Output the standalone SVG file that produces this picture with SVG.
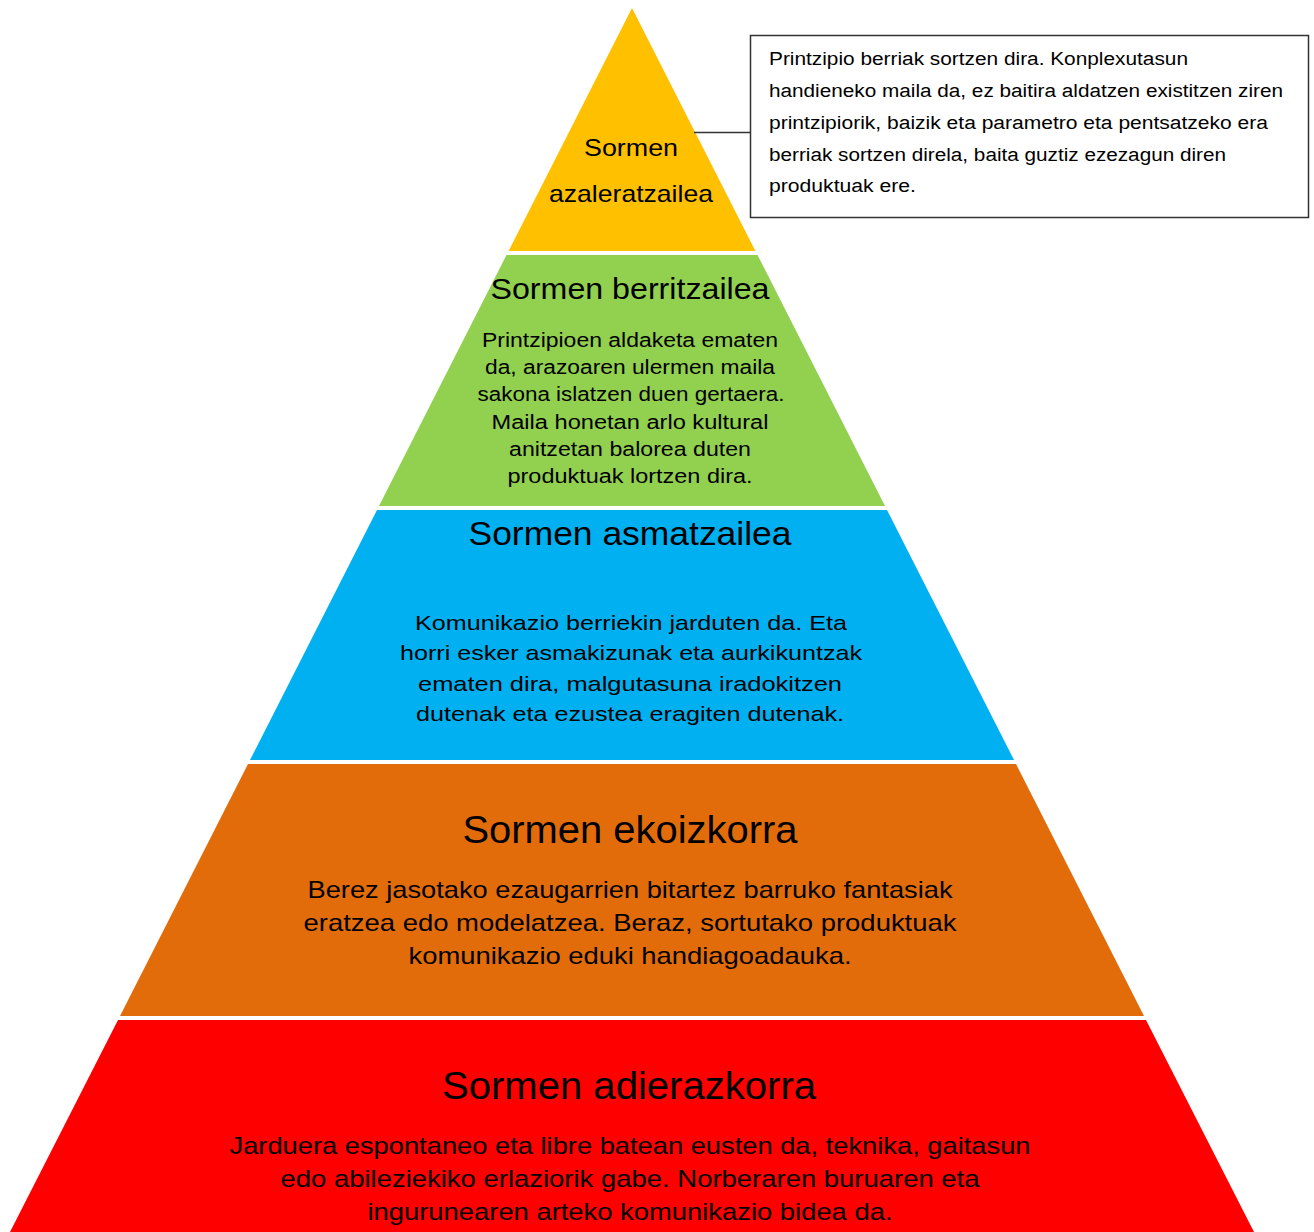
<svg xmlns="http://www.w3.org/2000/svg" width="1314" height="1232" viewBox="0 0 1314 1232">
  <style>
    text { font-family: "Liberation Sans", Arial, sans-serif; fill: #000; }
    .c { text-anchor: middle; }
    .t1 { font-size: 24px; }
    .tg { font-size: 30px; }
    .tb { font-size: 33px; }
    .to { font-size: 38px; }
    .bg { font-size: 20px; }
    .bb { font-size: 21px; }
    .bo { font-size: 24px; }
    .cl { font-size: 18px; }
    .line { stroke: #333; stroke-width: 1.5; fill: none; }
  </style>
  <rect width="1314" height="1232" fill="#fff"/>
  <g id="layer-azaleratzailea">
    <polygon points="632,8 755.4,251 508.6,251" fill="#FFC000"/>
    <text class="c t1" x="631" y="156" textLength="94" lengthAdjust="spacingAndGlyphs">Sormen</text>
    <text class="c t1" x="631" y="202" textLength="164" lengthAdjust="spacingAndGlyphs">azaleratzailea</text>
  </g>
  <g id="layer-berritzailea">
    <polygon points="506.5,255 757.5,255 885,506 379,506" fill="#92D050"/>
    <text class="c tg" x="630" y="299" textLength="279" lengthAdjust="spacingAndGlyphs">Sormen berritzailea</text>
    <text class="c bg" x="630" y="347" textLength="296" lengthAdjust="spacingAndGlyphs">Printzipioen aldaketa ematen</text>
    <text class="c bg" x="630" y="374" textLength="290" lengthAdjust="spacingAndGlyphs">da, arazoaren ulermen maila</text>
    <text class="c bg" x="631" y="401" textLength="307" lengthAdjust="spacingAndGlyphs">sakona islatzen duen gertaera.</text>
    <text class="c bg" x="630" y="429" textLength="277" lengthAdjust="spacingAndGlyphs">Maila honetan arlo kultural</text>
    <text class="c bg" x="630" y="456" textLength="242" lengthAdjust="spacingAndGlyphs">anitzetan balorea duten</text>
    <text class="c bg" x="630" y="483" textLength="245" lengthAdjust="spacingAndGlyphs">produktuak lortzen dira.</text>
  </g>
  <g id="layer-asmatzailea">
    <polygon points="377,510 887,510 1014,760 250,760" fill="#00B0F0"/>
    <text class="c tb" x="630" y="545" textLength="323" lengthAdjust="spacingAndGlyphs">Sormen asmatzailea</text>
    <text class="c bb" x="631" y="630" textLength="432" lengthAdjust="spacingAndGlyphs">Komunikazio berriekin jarduten da. Eta</text>
    <text class="c bb" x="631" y="660" textLength="462" lengthAdjust="spacingAndGlyphs">horri esker asmakizunak eta aurkikuntzak</text>
    <text class="c bb" x="630" y="691" textLength="424" lengthAdjust="spacingAndGlyphs">ematen dira, malgutasuna iradokitzen</text>
    <text class="c bb" x="630" y="721" textLength="428" lengthAdjust="spacingAndGlyphs">dutenak eta ezustea eragiten dutenak.</text>
  </g>
  <g id="layer-ekoizkorra">
    <polygon points="248,764 1016,764 1144,1016 120,1016" fill="#E36C0A"/>
    <text class="c to" x="630" y="843" textLength="335" lengthAdjust="spacingAndGlyphs">Sormen ekoizkorra</text>
    <text class="c bo" x="630" y="898" textLength="645" lengthAdjust="spacingAndGlyphs">Berez jasotako ezaugarrien bitartez barruko fantasiak</text>
    <text class="c bo" x="630" y="931" textLength="653" lengthAdjust="spacingAndGlyphs">eratzea edo modelatzea. Beraz, sortutako produktuak</text>
    <text class="c bo" x="630" y="964" textLength="443" lengthAdjust="spacingAndGlyphs">komunikazio eduki handiagoadauka.</text>
  </g>
  <g id="layer-adierazkorra">
    <polygon points="118,1020 1146,1020 1254,1232 10,1232" fill="#FF0000"/>
    <text class="c to" x="629" y="1099" textLength="374" lengthAdjust="spacingAndGlyphs">Sormen adierazkorra</text>
    <text class="c bo" x="630" y="1154" textLength="801" lengthAdjust="spacingAndGlyphs">Jarduera espontaneo eta libre batean eusten da, teknika, gaitasun</text>
    <text class="c bo" x="630" y="1187" textLength="699" lengthAdjust="spacingAndGlyphs">edo abileziekiko erlaziorik gabe. Norberaren buruaren eta</text>
    <text class="c bo" x="630" y="1220" textLength="525" lengthAdjust="spacingAndGlyphs">ingurunearen arteko komunikazio bidea da.</text>
  </g>
  <g id="connectors">
    <line class="line" x1="694" y1="132.5" x2="750.5" y2="132.5"/>
  </g>
  <g id="callout">
    <rect class="line" x="750.5" y="35.5" width="558" height="182"/>
    <text class="cl" x="769" y="65" textLength="419" lengthAdjust="spacingAndGlyphs">Printzipio berriak sortzen dira. Konplexutasun</text>
    <text class="cl" x="769" y="97" textLength="514" lengthAdjust="spacingAndGlyphs">handieneko maila da, ez baitira aldatzen existitzen ziren</text>
    <text class="cl" x="769" y="129" textLength="499" lengthAdjust="spacingAndGlyphs">printzipiorik, baizik eta parametro eta pentsatzeko era</text>
    <text class="cl" x="769" y="161" textLength="457" lengthAdjust="spacingAndGlyphs">berriak sortzen direla, baita guztiz ezezagun diren</text>
    <text class="cl" x="769" y="192" textLength="147" lengthAdjust="spacingAndGlyphs">produktuak ere.</text>
  </g>
</svg>
